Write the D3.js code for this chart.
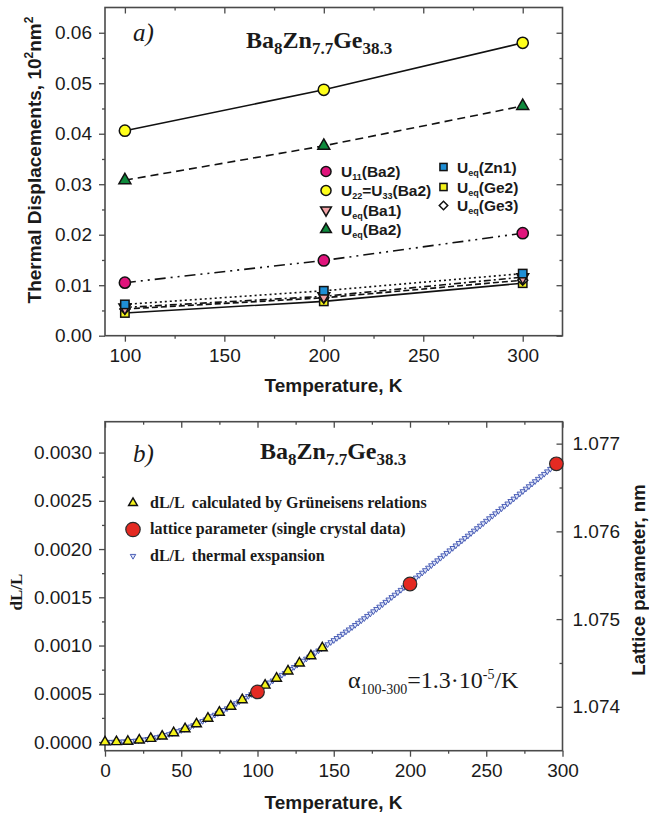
<!DOCTYPE html>
<html>
<head>
<meta charset="utf-8">
<script src="https://cdn.jsdelivr.net/npm/d3@7"></script>
<style>
  body { margin: 0; background: #fff; }
  svg { display: block; }
</style>
</head>
<body>
<svg id="chart" width="649" height="821"></svg>
<script>
// ---------- Panel a: thermal displacement parameters ----------
const tempA = [100, 200, 300];
const u11Ba2 = [0.0105, 0.0149, 0.0203];
const u22Ba2 = [0.0406, 0.0487, 0.0580];
const ueqBa1 = [0.0056, 0.0078, 0.0116];
const ueqBa2 = [0.0308, 0.0376, 0.0455];
const ueqZn1 = [0.0062, 0.0089, 0.0123];
const ueqGe2 = [0.0045, 0.0068, 0.0104];
const ueqGe3 = [0.0053, 0.0075, 0.0110];

const xTicksA = [100, 150, 200, 250, 300];
const xMinorA = [125, 175, 225, 275];
const yTicksA = [0, 0.01, 0.02, 0.03, 0.04, 0.05, 0.06];
const yMinorA = [0.005, 0.015, 0.025, 0.035, 0.045, 0.055];

// ---------- Panel b: linear thermal expansion ----------
// dL/L from the Grüneisen relation
const tempGrun = [0, 7.5, 15, 22.5, 30, 37.5, 45, 52.5, 60, 67.5, 75, 82.5, 90, 97.5,
                  105, 112.5, 120, 127.5, 135, 142.5];
const dlGrun = [0.00000, 0.000002, 0.000006, 0.000019, 0.000036, 0.000060, 0.000095, 0.000136,
                0.000187, 0.000245, 0.000307, 0.000369, 0.000437, 0.000509, 0.000588,
                0.000660, 0.000735, 0.000817, 0.000893, 0.000975];

// lattice parameter from single-crystal data (right axis, nm)
const tempLattice = [100, 200, 296];
const latticeA = [1.07417, 1.07540, 1.07677];

// dL/L thermal expansion curve, every 2 K from 0 to 296 K
const tempExp = [0,2,4,6,8,10,12,14,16,18,20,22,24,26,28,30,32,34,36,38,40,42,44,46,48,50,
  52,54,56,58,60,62,64,66,68,70,72,74,76,78,80,82,84,86,88,90,92,94,96,98,100,
  102,104,106,108,110,112,114,116,118,120,122,124,126,128,130,132,134,136,138,140,
  142,144,146,148,150,152,154,156,158,160,162,164,166,168,170,172,174,176,178,180,
  182,184,186,188,190,192,194,196,198,200,202,204,206,208,210,212,214,216,218,220,
  222,224,226,228,230,232,234,236,238,240,242,244,246,248,250,252,254,256,258,260,
  262,264,266,268,270,272,274,276,278,280,282,284,286,288,290,292,294,296];
const dlExp = [0,0,0,1e-6,2e-6,3e-6,4e-6,6e-6,8e-6,1.0e-5,1.3e-5,1.6e-5,2.0e-5,2.5e-5,3.0e-5,3.6e-5,
  4.2e-5,4.8e-5,5.5e-5,6.3e-5,7.1e-5,8.0e-5,9.0e-5,1.00e-4,1.11e-4,1.22e-4,
  1.34e-4,1.46e-4,1.59e-4,1.73e-4,1.87e-4,2.02e-4,2.17e-4,2.33e-4,2.49e-4,2.66e-4,
  2.82e-4,2.98e-4,3.14e-4,3.31e-4,3.48e-4,3.65e-4,3.83e-4,4.01e-4,4.19e-4,4.37e-4,
  4.56e-4,4.76e-4,4.95e-4,5.15e-4,5.35e-4,5.55e-4,5.75e-4,5.95e-4,6.16e-4,6.36e-4,
  6.56e-4,6.76e-4,6.95e-4,7.15e-4,7.35e-4,7.56e-4,7.77e-4,7.99e-4,8.20e-4,8.42e-4,
  8.63e-4,8.84e-4,9.05e-4,9.27e-4,9.48e-4,9.69e-4,9.91e-4,1.012e-3,1.034e-3,1.055e-3,
  1.077e-3,1.099e-3,1.121e-3,1.144e-3,1.166e-3,1.189e-3,1.212e-3,1.235e-3,1.259e-3,1.282e-3,
  1.306e-3,1.330e-3,1.354e-3,1.378e-3,1.402e-3,1.427e-3,1.452e-3,1.476e-3,1.501e-3,1.526e-3,
  1.551e-3,1.576e-3,1.602e-3,1.627e-3,1.652e-3,1.678e-3,1.703e-3,1.729e-3,1.754e-3,1.780e-3,
  1.806e-3,1.831e-3,1.857e-3,1.882e-3,1.908e-3,1.934e-3,1.959e-3,1.985e-3,2.010e-3,2.036e-3,
  2.062e-3,2.087e-3,2.113e-3,2.138e-3,2.164e-3,2.190e-3,2.215e-3,2.241e-3,2.266e-3,2.292e-3,
  2.318e-3,2.343e-3,2.369e-3,2.394e-3,2.420e-3,2.446e-3,2.471e-3,2.497e-3,2.522e-3,2.548e-3,
  2.574e-3,2.599e-3,2.625e-3,2.650e-3,2.676e-3,2.702e-3,2.727e-3,2.753e-3,2.778e-3,2.804e-3,
  2.830e-3,2.855e-3,2.881e-3];

const xTicksB = [0, 50, 100, 150, 200, 250, 300];
const xMinorB = [25, 75, 125, 175, 225, 275];
const yTicksB = [0, 0.0005, 0.001, 0.0015, 0.002, 0.0025, 0.003];
const yMinorB = [0.00025, 0.00075, 0.00125, 0.00175, 0.00225, 0.00275];
const yTicksB2 = [1.074, 1.075, 1.076, 1.077];
const yMinorB2 = [1.0745, 1.0755, 1.0765];

// ---------- drawing ----------
const svg = d3.select("#chart");
const SANS = "'Liberation Sans', Arial, sans-serif";
const SERIF = "'Liberation Serif', 'Times New Roman', serif";
const FRAME = "#4a4a4a";
const TICK_FONT = 19;

// text with sub/superscript pieces
function richText(sel, x, y, parts, opts) {
  const t = sel.append("text").attr("x", x).attr("y", y)
    .attr("font-family", opts.family).attr("font-size", opts.size)
    .attr("font-weight", opts.weight || "normal")
    .attr("font-style", opts.style || "normal")
    .attr("fill", opts.fill || "#1a1a1a");
  if (opts.transform) t.attr("transform", opts.transform);
  if (opts.anchor) t.attr("text-anchor", opts.anchor);
  let shift = 0;
  parts.forEach(p => {
    const target = p.sub ? (opts.subShift) : p.sup ? -(opts.supShift) : 0;
    const s = t.append("tspan").text(p.t).attr("dy", target - shift);
    if (p.sub || p.sup) s.attr("font-size", p.size || opts.smallSize);
    shift = target;
  });
  return t;
}

function styleAxis(g, fontSize) {
  g.select(".domain").remove();
  g.selectAll(".tick line").attr("stroke", FRAME).attr("stroke-width", 1.3);
  g.selectAll(".tick text").attr("font-family", SANS).attr("font-size", fontSize)
    .attr("fill", "#1a1a1a");
}

function frameAxes(x, y, ticksX, minorX, ticksY, minorY, fmtY, fontSize) {
  const [x0, x1] = x.range();
  const [y0, y1] = y.range();
  // bottom (outward)
  styleAxis(svg.append("g").attr("transform", `translate(0,${y0})`)
    .call(d3.axisBottom(x).tickValues(ticksX).tickSize(6).tickPadding(7).tickFormat(d3.format("d"))), fontSize);
  styleAxis(svg.append("g").attr("transform", `translate(0,${y0})`)
    .call(d3.axisBottom(x).tickValues(minorX).tickSize(3).tickFormat("")), fontSize);
  // top (inward)
  styleAxis(svg.append("g").attr("transform", `translate(0,${y1})`)
    .call(d3.axisTop(x).tickValues(ticksX).tickSize(-6).tickFormat("")), fontSize);
  styleAxis(svg.append("g").attr("transform", `translate(0,${y1})`)
    .call(d3.axisTop(x).tickValues(minorX).tickSize(-3).tickFormat("")), fontSize);
  // left (outward)
  styleAxis(svg.append("g").attr("transform", `translate(${x0},0)`)
    .call(d3.axisLeft(y).tickValues(ticksY).tickSize(6).tickPadding(7).tickFormat(fmtY)), fontSize);
  styleAxis(svg.append("g").attr("transform", `translate(${x0},0)`)
    .call(d3.axisLeft(y).tickValues(minorY).tickSize(3).tickFormat("")), fontSize);
  // frame
  svg.append("rect").attr("x", x0).attr("y", y1).attr("width", x1 - x0).attr("height", y0 - y1)
    .attr("fill", "none").attr("stroke", FRAME).attr("stroke-width", 1.6);
}

// ===== Panel a =====
const xA = d3.scaleLinear().domain([90, 320]).range([105, 562.5]);
const yA = d3.scaleLinear().domain([0, 0.065]).range([335.7, 7.5]);

frameAxes(xA, yA, xTicksA, xMinorA, yTicksA, yMinorA, d3.format(".2f"), TICK_FONT);
// right side ticks (inward, no labels)
styleAxis(svg.append("g").attr("transform", `translate(562.5,0)`)
  .call(d3.axisRight(yA).tickValues(yTicksA).tickSize(-6).tickFormat("")), TICK_FONT);
styleAxis(svg.append("g").attr("transform", `translate(562.5,0)`)
  .call(d3.axisRight(yA).tickValues(yMinorA).tickSize(-3).tickFormat("")), TICK_FONT);

const seriesA = [
  { name: "u22", values: u22Ba2, dash: null, shape: "circle", fill: "#ffff1a" },
  { name: "ueqBa2", values: ueqBa2, dash: "8,5", shape: "triUp", fill: "#0e8a3c" },
  { name: "u11", values: u11Ba2, dash: "11,5,2,5,2,5", shape: "circle", fill: "#e0147c" },
  { name: "ueqZn1", values: ueqZn1, dash: "2,3", shape: "square", fill: "#1f8fd6" },
  { name: "ueqBa1", values: ueqBa1, dash: "7,3,2,3", shape: "triDown", fill: "#f2a2a6" },
  { name: "ueqGe3", values: ueqGe3, dash: "6,3", shape: "diamond", fill: "#ffffff" },
  { name: "ueqGe2", values: ueqGe2, dash: null, shape: "square", fill: "#f4f21a" }
];

const lineA = d3.line().x((d, i) => xA(tempA[i])).y(d => yA(d));
seriesA.forEach(s => {
  svg.append("path").datum(s.values).attr("d", lineA)
    .attr("fill", "none").attr("stroke", "#111").attr("stroke-width", 1.6)
    .attr("stroke-dasharray", s.dash);
});

function drawMarker(g, shape, cx, cy, fill, scale) {
  const k = scale || 1;
  if (shape === "circle") {
    g.append("circle").attr("cx", cx).attr("cy", cy).attr("r", 5.6 * k)
      .attr("fill", fill).attr("stroke", "#111").attr("stroke-width", 1.5);
  } else if (shape === "square") {
    g.append("rect").attr("x", cx - 4.2 * k).attr("y", cy - 4.2 * k)
      .attr("width", 8.4 * k).attr("height", 8.4 * k)
      .attr("fill", fill).attr("stroke", "#111").attr("stroke-width", 1.5);
  } else {
    const type = shape === "diamond" ? d3.symbolSquare : d3.symbolTriangle;
    const size = shape === "diamond" ? 50 * k * k : 62 * k * k;
    const rot = shape === "triDown" ? 180 : shape === "diamond" ? 45 : 0;
    g.append("path").attr("d", d3.symbol().type(type).size(size)())
      .attr("transform", `translate(${cx},${cy}) rotate(${rot})`)
      .attr("fill", fill).attr("stroke", "#111").attr("stroke-width", 1.5);
  }
}

const marksA = svg.append("g");
seriesA.slice().reverse().forEach(s => {
  s.values.forEach((v, i) => drawMarker(marksA, s.shape, xA(tempA[i]), yA(v), s.fill));
});

// panel a labels
richText(svg, 133, 41, [{ t: "a)" }], { family: SERIF, size: 25, style: "italic" });
richText(svg, 246, 48, [
  { t: "Ba" }, { t: "8", sub: true }, { t: "Zn" }, { t: "7.7", sub: true },
  { t: "Ge" }, { t: "38.3", sub: true }
], { family: SERIF, size: 24, weight: "bold", smallSize: 17, subShift: 6 });

// legend a
const legA1 = [
  { shape: "circle", fill: "#e0147c", y: 171.5, parts: [{ t: "U" }, { t: "11", sub: true }, { t: "(Ba2)" }] },
  { shape: "circle", fill: "#ffff1a", y: 190.5, parts: [{ t: "U" }, { t: "22", sub: true }, { t: "=U" }, { t: "33", sub: true }, { t: "(Ba2)" }] },
  { shape: "triDown", fill: "#f2a2a6", y: 210, parts: [{ t: "U" }, { t: "eq", sub: true }, { t: "(Ba1)" }] },
  { shape: "triUp", fill: "#0e8a3c", y: 229.5, parts: [{ t: "U" }, { t: "eq", sub: true }, { t: "(Ba2)" }] }
];
const legA2 = [
  { shape: "square", fill: "#1f8fd6", y: 167, parts: [{ t: "U" }, { t: "eq", sub: true }, { t: "(Zn1)" }] },
  { shape: "square", fill: "#f4f21a", y: 187, parts: [{ t: "U" }, { t: "eq", sub: true }, { t: "(Ge2)" }] },
  { shape: "diamond", fill: "#ffffff", y: 205.5, parts: [{ t: "U" }, { t: "eq", sub: true }, { t: "(Ge3)" }] }
];
const legG = svg.append("g");
legA1.forEach(d => {
  drawMarker(legG, d.shape, 326, d.y, d.fill, 0.9);
  richText(legG, 341, d.y + 5.5, d.parts, { family: SANS, size: 15.5, weight: "bold", smallSize: 9, subShift: 3 });
});
legA2.forEach(d => {
  drawMarker(legG, d.shape, 443.5, d.y, d.fill, 0.85);
  richText(legG, 457, d.y + 5.5, d.parts, { family: SANS, size: 15.5, weight: "bold", smallSize: 9, subShift: 3 });
});

// axis titles a
richText(svg, 333.5, 392, [{ t: "Temperature, K" }], { family: SANS, size: 19, weight: "bold", anchor: "middle" });
richText(svg, 0, 0, [
  { t: "Thermal Displacements, 10" }, { t: "2", sup: true }, { t: "nm" }, { t: "2", sup: true }
], { family: SANS, size: 19, weight: "bold", anchor: "middle", smallSize: 12, supShift: 8,
     transform: "translate(41,160) rotate(-90)" });

// ===== Panel b =====
const xB = d3.scaleLinear().domain([0, 300]).range([105, 562.5]);
const yB = d3.scaleLinear().domain([-0.00009, 0.00332]).range([750.7, 421.7]);
const yB2 = d3.scaleLinear().domain([1.0735, 1.07725]).range([750.7, 421.7]);

frameAxes(xB, yB, xTicksB, xMinorB, yTicksB, yMinorB, d3.format(".4f"), TICK_FONT);
styleAxis(svg.append("g").attr("transform", `translate(562.5,0)`)
  .call(d3.axisRight(yB2).tickValues(yTicksB2).tickSize(-6).tickPadding(10).tickFormat(d3.format(".3f"))), TICK_FONT);
styleAxis(svg.append("g").attr("transform", `translate(562.5,0)`)
  .call(d3.axisRight(yB2).tickValues(yMinorB2).tickSize(-3).tickFormat("")), TICK_FONT);

const BLUE = "#3a4fb0";
const triSmall = d3.symbol().type(d3.symbolTriangle).size(13)();
svg.append("g").selectAll("path").data(dlExp).join("path")
  .attr("d", triSmall)
  .attr("transform", (d, i) => `translate(${xB(tempExp[i])},${yB(d)}) rotate(180)`)
  .attr("fill", "#dfe5f7").attr("stroke", BLUE).attr("stroke-width", 0.9);

const triBig = d3.symbol().type(d3.symbolTriangle).size(42)();
svg.append("g").selectAll("path").data(dlGrun).join("path")
  .attr("d", triBig)
  .attr("transform", (d, i) => `translate(${xB(tempGrun[i])},${yB(d)})`)
  .attr("fill", "#f4f21a").attr("stroke", "#111").attr("stroke-width", 1.4);

svg.append("g").selectAll("circle").data(latticeA).join("circle")
  .attr("cx", (d, i) => xB(tempLattice[i])).attr("cy", d => yB2(d)).attr("r", 6.8)
  .attr("fill", "#e42a22").attr("stroke", "#2a2a2a").attr("stroke-width", 1.2);

// panel b labels
richText(svg, 133, 462, [{ t: "b)" }], { family: SERIF, size: 25, style: "italic" });
richText(svg, 260, 459, [
  { t: "Ba" }, { t: "8", sub: true }, { t: "Zn" }, { t: "7.7", sub: true },
  { t: "Ge" }, { t: "38.3", sub: true }
], { family: SERIF, size: 24, weight: "bold", smallSize: 17, subShift: 6 });

// legend b
const legB = svg.append("g");
legB.append("path").attr("d", d3.symbol().type(d3.symbolTriangle).size(34)()).attr("transform", "translate(133,503)")
  .attr("fill", "#f4f21a").attr("stroke", "#111").attr("stroke-width", 1.4);
legB.append("circle").attr("cx", 133).attr("cy", 529.5).attr("r", 7.2)
  .attr("fill", "#e42a22").attr("stroke", "#2a2a2a").attr("stroke-width", 1.2);
legB.append("path").attr("d", triSmall).attr("transform", "translate(133,556) rotate(180)")
  .attr("fill", "#dfe5f7").attr("stroke", BLUE).attr("stroke-width", 0.9);
const legBText = [
  { y: 508, t: "dL/L  calculated by Grüneisens relations" },
  { y: 534, t: "lattice parameter (single crystal data)" },
  { y: 561, t: "dL/L  thermal exspansion" }
];
legBText.forEach(d => {
  legB.append("text").attr("x", 150).attr("y", d.y).text(d.t)
    .attr("font-family", SERIF).attr("font-size", 16).attr("font-weight", "bold")
    .attr("fill", "#1a1a1a").style("white-space", "pre");
});

// expansion coefficient annotation
richText(svg, 348, 688, [
  { t: "α" }, { t: "100-300", sub: true, size: 14 }, { t: "=1.3·10" }, { t: "-5", sup: true, size: 14 }, { t: "/K" }
], { family: SERIF, size: 24, smallSize: 14, subShift: 6, supShift: 9 });

// axis titles b
richText(svg, 333.5, 809, [{ t: "Temperature, K" }], { family: SANS, size: 19, weight: "bold", anchor: "middle" });
richText(svg, 0, 0, [{ t: "dL/L" }], { family: SERIF, size: 17, weight: "bold", anchor: "middle",
  transform: "translate(22,592) rotate(-90)" });
richText(svg, 0, 0, [{ t: "Lattice parameter, nm" }], { family: SANS, size: 18.5, weight: "bold", anchor: "middle",
  transform: "translate(645,580) rotate(-90)" });
</script>
</body>
</html>
